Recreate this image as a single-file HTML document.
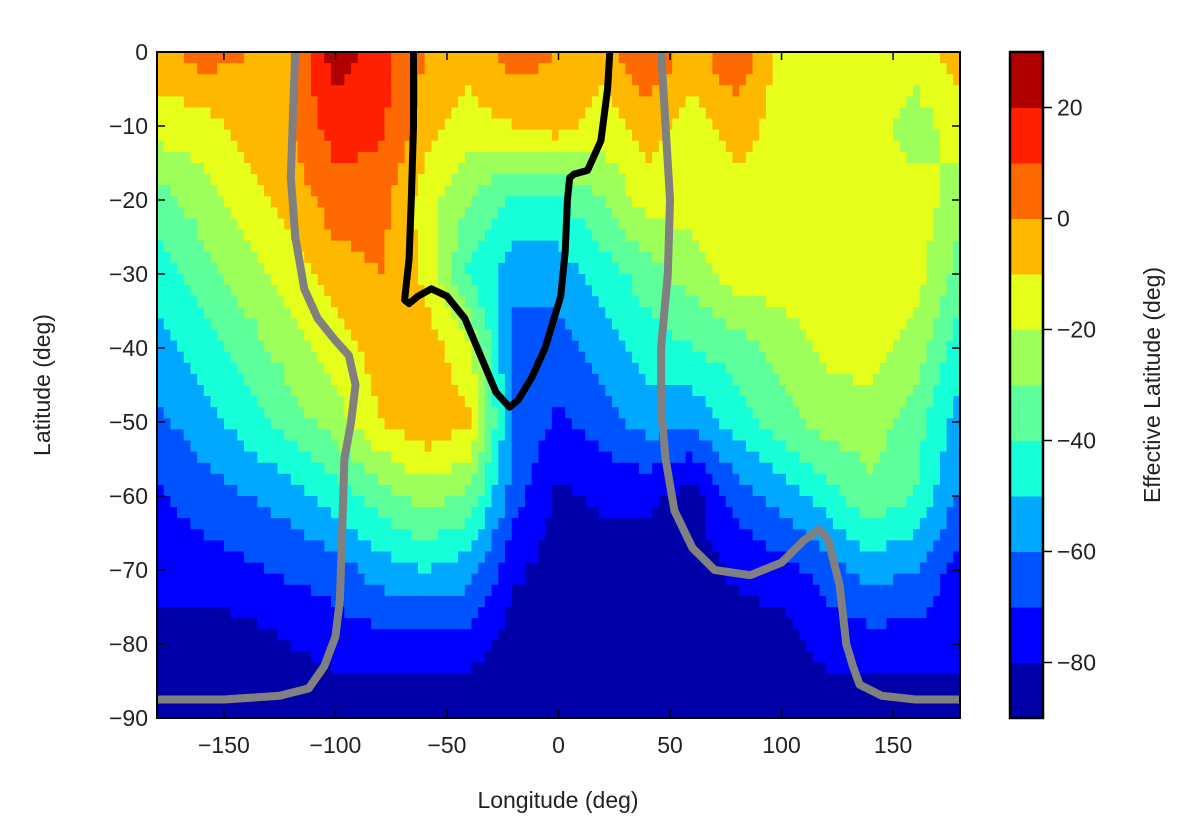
<!DOCTYPE html>
<html><head><meta charset="utf-8">
<style>
body{margin:0;background:#fff;}
svg{display:block;font-family:"Liberation Sans","DejaVu Sans",sans-serif;}
</style></head>
<body>
<svg id="chart" width="1200" height="830">
<g id="field"></g>
<g id="lines"></g>
<rect x="157" y="52" width="803" height="666" fill="none" stroke="#000" stroke-width="2"/>
<g id="axes"></g>
<g id="cbar"></g>
<text x="558" y="808" font-size="23" text-anchor="middle" fill="#222">Longitude (deg)</text>
<text transform="translate(50,385) rotate(-90)" font-size="23" text-anchor="middle" fill="#222">Latitude (deg)</text>
<text transform="translate(1160,385) rotate(-90)" font-size="23" text-anchor="middle" fill="#222">Effective Latitude (deg)</text>
</svg>
<script>
const lons=[-180,-160,-140,-120,-100,-80,-60,-40,-20,0,20,40,60,80,100,120,140,160,180];
const lats=[0,-10,-20,-30,-40,-50,-60,-70,-80,-90];
const row0=[-5,5,0,0,25,15,0,-5,5,0,-5,10,-5,10,-15,-15,-15,-15,-5];
const row10=[-15,-15,-5,0,15,12,-5,-15,-10,-5,-15,-5,-15,-5,-15,-15,-15,-25,-15];
const row20=[-35,-25,-15,-5,5,5,-15,-30,-42,-42,-30,-15,-15,-15,-15,-15,-15,-15,-25];
const row30=[-45,-35,-25,-15,-5,0,-12,-42,-55,-55,-45,-35,-25,-15,-15,-15,-15,-15,-35];
const row40=[-55,-45,-35,-25,-15,-5,-3,-18,-65,-65,-55,-45,-40,-35,-25,-18,-15,-25,-45];
const row50=[-62,-55,-45,-35,-25,-10,-2,-8,-62,-72,-65,-55,-58,-45,-35,-25,-25,-35,-55];
const row60=[-72,-65,-60,-55,-45,-35,-25,-32,-65,-82,-78,-78,-84,-65,-55,-45,-32,-40,-62];
const row70=[-75,-75,-72,-68,-65,-55,-50,-55,-78,-85,-85,-85,-85,-78,-75,-65,-55,-60,-75];
const row80=[-85,-85,-85,-80,-76,-75,-75,-75,-85,-85,-85,-85,-85,-85,-85,-76,-75,-75,-75];
const row90=[-88,-88,-88,-88,-88,-88,-88,-88,-88,-88,-88,-88,-88,-88,-88,-88,-88,-88,-88];
const rows=[row0,row10,row20,row30,row40,row50,row60,row70,row80,row90];
const levels=[-90,-80,-70,-60,-50,-40,-30,-20,-10,0,10,20,30];
const colors=["#0000a8","#0000ff","#0054ff","#00a8ff","#16ffd8","#5cff9a","#9cff5a","#e6ff1a","#ffb800","#ff6a00","#ff2000","#b00000"];
const xTicks=[-150,-100,-50,0,50,100,150];
const yTicks=[0,-10,-20,-30,-40,-50,-60,-70,-80,-90];
const cbTicks=[20,0,-20,-40,-60,-80];
const blackLon=[-65,-65,-66,-67,-69,-67,-63,-57,-50,-42,-35,-28,-22,-18,-12,-6,-3,1,3,4,5,7,13,19,22,23];
const blackLat=[0,-10,-20,-28,-33.5,-34,-33,-32,-33,-36,-41,-46,-48,-47,-44,-40,-37,-33,-27,-20,-17,-16.5,-16,-12,-5,0];
const gray1Lon=[-118,-119,-120,-118,-114,-108,-100,-94,-91,-93,-96,-97,-98,-100,-105,-112,-125,-150,-180];
const gray1Lat=[0,-8,-17,-25,-32,-36,-39,-41,-45,-50,-55,-65,-74,-79,-83,-86,-87,-87.5,-87.5];
const gray2Lon=[46,48,50,49,46,46,48,52,60,70,86,100,110,117,121,126,129,132,135,145,160,180];
const gray2Lat=[0,-10,-20,-30,-40,-48,-55,-62,-67,-70,-70.7,-69,-66,-64.5,-66,-72,-80,-83,-85.5,-87,-87.5,-87.5];

const X0=157,X1=960,Y0=52,Y1=718;
const xS=l=>X0+(l+180)*(X1-X0)/360;
const yS=la=>Y0+(-la)*(Y1-Y0)/90;
const NS="http://www.w3.org/2000/svg";
function val(lon,lat){
  let fi=(lon+180)/20, fj=-lat/10;
  let i=Math.min(Math.floor(fi),lons.length-2), j=Math.min(Math.floor(fj),lats.length-2);
  let u=fi-i, v=fj-j;
  return rows[j][i]*(1-u)*(1-v)+rows[j][i+1]*u*(1-v)+rows[j+1][i]*(1-u)*v+rows[j+1][i+1]*u*v;
}
function colorOf(z){
  for(let k=0;k<colors.length;k++){ if(z<levels[k+1]) return colors[k]; }
  return colors[colors.length-1];
}
const field=document.getElementById('field');
const dl=3, dla=1.5;
for(let lon=-180;lon<180;lon+=dl){
  for(let lat=0;lat>-90;lat-=dla){
    const z=val(lon+dl/2,lat-dla/2);
    const r=document.createElementNS(NS,'rect');
    r.setAttribute('x',xS(lon));r.setAttribute('y',yS(lat));
    r.setAttribute('width',xS(lon+dl)-xS(lon)+0.6);r.setAttribute('height',yS(lat-dla)-yS(lat)+0.6);
    r.setAttribute('fill',colorOf(z));
    
    
    field.appendChild(r);
  }
}
const lines=document.getElementById('lines');
function poly(lo,la,col,w,name){
  const p=document.createElementNS(NS,'polyline');
  p.setAttribute('points',lo.map((l,i)=>xS(l)+','+yS(la[i])).join(' '));
  p.setAttribute('fill','none');p.setAttribute('stroke',col);p.setAttribute('stroke-width',w);
  p.setAttribute('stroke-linejoin','round');
  
  
  lines.appendChild(p);
}
poly(gray1Lon,gray1Lat,'#808080',8,'gray-contour-west');
poly(gray2Lon,gray2Lat,'#808080',8,'gray-contour-east');
poly(blackLon,blackLat,'#000',7,'black-contour');
const axes=document.getElementById('axes');
function line(x1,y1,x2,y2,name){
  const l=document.createElementNS(NS,'line');
  l.setAttribute('x1',x1);l.setAttribute('y1',y1);l.setAttribute('x2',x2);l.setAttribute('y2',y2);
  l.setAttribute('stroke','#000');l.setAttribute('stroke-width',1.5);
  
  
  return l;
}
function text(x,y,s,anchor,name){
  const t=document.createElementNS(NS,'text');
  t.setAttribute('x',x);t.setAttribute('y',y);t.setAttribute('font-size','23');
  t.setAttribute('text-anchor',anchor);t.setAttribute('fill','#222');
  t.textContent=s;
  
  
  return t;
}
const fmt=v=>v<0?'\u2212'+(-v):''+v;
xTicks.forEach(v=>{
  const x=xS(v);
  axes.appendChild(line(x,Y1,x,Y1-8,'x-tick'));
  axes.appendChild(line(x,Y0,x,Y0+8,'x-tick-top'));
  axes.appendChild(text(x,Y1+35,fmt(v),'middle','x-tick-label'));
});
yTicks.forEach(v=>{
  const y=yS(v);
  axes.appendChild(line(X0,y,X0+8,y,'y-tick'));
  axes.appendChild(line(X1,y,X1-8,y,'y-tick-right'));
  axes.appendChild(text(X0-9,y+8,fmt(v),'end','y-tick-label'));
});
const cb=document.getElementById('cbar');
const CX=1010,CW=33;
const cy=z=>Y1-(z-levels[0])*(Y1-Y0)/(levels[levels.length-1]-levels[0]);
colors.forEach((c,k)=>{
  const r=document.createElementNS(NS,'rect');
  r.setAttribute('x',CX);r.setAttribute('y',cy(levels[k+1]));r.setAttribute('width',CW);
  r.setAttribute('height',cy(levels[k])-cy(levels[k+1])+0.5);r.setAttribute('fill',c);
  
  
  cb.appendChild(r);
});
const fr=document.createElementNS(NS,'rect');
fr.setAttribute('x',CX);fr.setAttribute('y',Y0);fr.setAttribute('width',CW);fr.setAttribute('height',Y1-Y0);
fr.setAttribute('fill','none');fr.setAttribute('stroke','#000');fr.setAttribute('stroke-width',2.5);


cb.appendChild(fr);
cbTicks.forEach(v=>{
  const y=cy(v);
  cb.appendChild(line(CX+CW,y,CX+CW+9,y,'colorbar-tick'));
  cb.appendChild(text(CX+CW+14,y+8,fmt(v),'start','colorbar-tick-label'));
});
</script>
</body></html>
